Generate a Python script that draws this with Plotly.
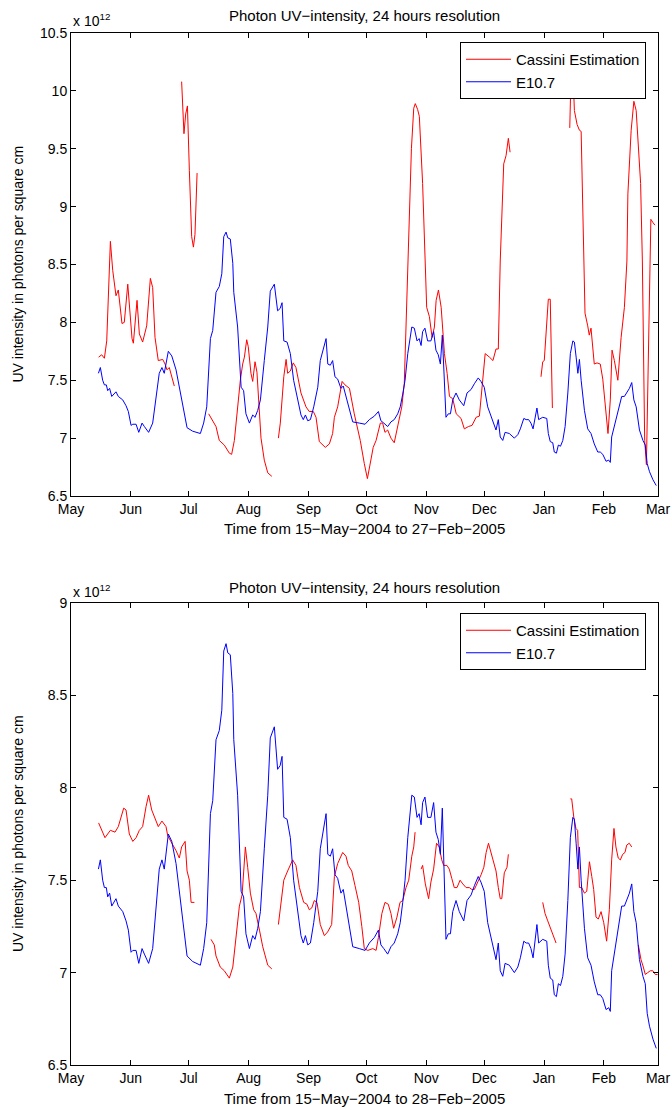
import datetime as dt
import plotly.graph_objects as go

START = dt.datetime(2004, 5, 15)

# ---------------- data (days after 15-May-2004, values in 1e12 photons/cm^2) -------------
# E10.7 proxy (same series in both panels)
e107_days = [0.2, 1.2, 2.4, 3.3, 4.3, 5.0, 6.0, 7.1, 9.3, 10.5, 12.8, 14.5, 15.7, 17.1, 18.0, 19.7,
             21.1, 22.8, 24.0, 26.2, 28.3, 30.0, 31.7, 33.1, 34.3, 36.4, 38.2, 40.4, 42.1, 43.8, 46.1,
             49.0, 50.8, 53.0, 54.7, 56.3, 58.2, 59.4, 61.1, 62.8, 64.1, 65.1, 66.3, 67.2, 68.5, 69.8,
             70.3, 72.3, 74.1, 75.4, 76.6, 78.4, 80.1, 81.3, 82.7, 84.1, 86.1, 87.9, 89.2, 91.3, 93.0,
             94.3, 95.3, 96.2, 97.9, 99.6, 101.3, 103.4, 105.1, 106.3, 107.4, 108.6, 110.0, 111.7, 113.8,
             115.1, 116.9, 118.1, 119.0, 120.3, 121.5, 122.7, 124.1, 125.8, 127.0, 128.4, 129.8, 131.9,
             135.3, 138.3, 140.5, 143.1, 145.2, 146.5, 148.0, 150.0, 151.7, 153.4, 155.2, 156.5, 157.8,
             159.0, 160.4, 162.5, 163.8, 165.2, 166.3, 167.3, 168.1, 169.3, 170.7, 172.4, 173.8, 175.0,
             176.2, 177.3, 178.3, 179.0, 180.2, 181.4, 182.5, 183.7, 185.4, 187.1, 189.4, 191.1, 193.2,
             194.9, 196.9, 198.3, 200.0, 201.8, 204.0, 206.1, 207.3, 208.3, 209.6, 210.8, 213.0, 215.6,
             217.4, 218.7, 220.5, 221.7, 223.0, 224.2, 225.3, 226.3, 227.3, 228.2, 230.3, 232.4, 233.2,
             234.2, 235.5, 236.3, 237.4, 238.4, 239.5, 240.7, 241.9, 243.3, 244.6, 245.9, 246.7, 247.6,
             248.5, 249.3, 250.2, 251.9, 253.6, 255.3, 257.0, 258.8, 260.1, 261.4, 263.1, 264.5, 265.3,
             266.0, 267.4, 269.2, 270.0, 271.2, 272.6, 274.0, 275.2, 276.4, 277.5, 278.7, 280.4, 282.2,
             283.4, 284.4, 285.6, 287.4, 289.1]
e107_vals = [7.56, 7.61, 7.50, 7.46, 7.46, 7.41, 7.43, 7.36, 7.40, 7.36, 7.33, 7.28, 7.23, 7.11, 7.12, 7.12,
             7.05, 7.13, 7.10, 7.05, 7.13, 7.33, 7.56, 7.61, 7.56, 7.75, 7.71, 7.59, 7.44, 7.31, 7.09,
             7.06, 7.05, 7.04, 7.13, 7.27, 7.86, 7.93, 8.26, 8.31, 8.42, 8.74, 8.78, 8.73, 8.72, 8.51,
             8.26, 7.96, 7.44, 7.41, 7.21, 7.13, 7.20, 7.18, 7.24, 7.33, 7.67, 7.96, 8.27, 8.33, 8.10,
             8.12, 8.17, 7.84, 7.83, 7.73, 7.50, 7.33, 7.20, 7.16, 7.20, 7.15, 7.16, 7.27, 7.44,
             7.67, 7.80, 7.86, 7.64, 7.63, 7.67, 7.53, 7.51, 7.43, 7.45, 7.36, 7.27, 7.14,
             7.13, 7.12, 7.16, 7.19, 7.23, 7.15, 7.13, 7.10, 7.14, 7.16, 7.21, 7.27, 7.38,
             7.50, 7.73, 7.96, 7.95, 7.84, 7.86, 7.80, 7.92, 7.95, 7.84, 7.84, 7.92, 7.76,
             7.72, 7.64, 7.89, 7.61, 7.18, 7.21, 7.21, 7.33, 7.39, 7.33, 7.28, 7.39, 7.42,
             7.47, 7.52, 7.49, 7.44, 7.27, 7.16, 7.07, 7.16, 7.01, 6.98, 7.05, 7.04, 7.00,
             7.03, 7.08, 7.17, 7.16, 7.16, 7.13, 7.08, 7.18, 7.26, 7.16, 7.18, 7.17, 7.04,
             6.97, 6.96, 6.88, 6.87, 6.94, 6.93, 6.98, 7.10, 7.39, 7.73, 7.84, 7.83, 7.70,
             7.56, 7.68, 7.50, 7.24, 7.08, 7.04, 6.95, 6.88, 6.88, 6.86, 6.80, 6.81, 6.79,
             7.01, 7.10, 7.21, 7.26, 7.36, 7.36, 7.40, 7.43, 7.48, 7.33, 7.27, 7.07, 6.98,
             6.94, 6.78, 6.71, 6.64, 6.59]

# Cassini estimation, top panel (None = data gap)
cassini1_days = [0.3, 1.9, 3.3, 4.5, 6.4, 7.6, 9.3, 10.5, 12.4, 13.6, 15.4, 17.6, 18.3, 20.2, 21.4, 23.1,
                 25.2, 27.1, 28.3, 29.5, 31.2, 33.5, 34.7, 35.7, 36.9, 37.8, 39.5, None,
                 43.3, 44.5, 45.4, 46.3, 47.3, 48.5, 49.4, 50.2, 51.3, None,
                 57.3, 58.9, 61.1, 62.8, 65.4, 68.0, 69.2, 70.6, 72.3, 73.7, 74.9, 75.8, 77.0, 77.8,
                 79.2, 80.1, 81.3, 82.3, 84.4, 86.1, 87.9, 90.0, None,
                 93.4, 94.4, 96.2, 97.4, 98.2, 99.6, 101.1, 102.5, 105.1, 107.7, 109.4, 111.5, 112.9,
                 114.6, 117.7, 119.8, 121.5, 122.4, 124.1, 126.4, 127.9, 130.2, 132.7, 135.8, 137.9,
                 139.5, 141.4, 142.5, 144.0, 146.2, 147.4, 148.6, 150.0, 151.7, 153.4, 155.2, 157.3,
                 158.6, 160.0, 161.3, 162.3, 163.5, 164.3, 165.5, 166.4, 168.1, 169.4, 170.2, 171.6,
                 173.0, 174.2, 175.1, 176.3, 177.7, 179.4, 180.8, 182.0, 183.7, 185.5, 188.0, 189.7,
                 191.8, 193.7, 195.8, 197.5, 198.8, 200.5, 202.7, 204.5, 206.1, 207.3, 208.3, 210.1,
                 211.3, 212.5, 213.4, None,
                 229.4, 230.3, 231.1, 233.2, 234.2, 235.3, None,
                 244.3, 245.2, 246.0, 246.7, 248.1, 249.3, 250.2, 251.6, 252.2, 253.6, 254.4, 255.3,
                 257.0, 258.4, 260.1, 261.4, 262.7, 264.1, 265.3, 266.2, 267.4, 269.2, 270.9, 272.6,
                 273.9, 274.4, 276.1, 277.5, 278.7, 281.0, 281.9, 283.1, 284.0, 286.3, 287.5, 288.4]
cassini1_vals = [7.70, 7.72, 7.69, 7.84, 8.70, 8.45, 8.23, 8.28, 7.99, 8.00, 8.33, 7.86, 7.82, 8.19, 7.90, 7.83,
                 7.97, 8.38, 8.30, 7.87, 7.67, 7.68, 7.64, 7.59, 7.61, 7.56, 7.45, None,
                 10.08, 9.63, 9.80, 9.87, 9.31, 8.74, 8.65, 8.76, 9.29, None,
                 7.21, 7.16, 7.10, 6.98, 6.94, 6.87, 6.86, 6.98, 7.27, 7.50, 7.64, 7.70, 7.85, 7.79,
                 7.56, 7.49, 7.66, 7.57, 7.00, 6.81, 6.70, 6.67, None,
                 7.00, 7.13, 7.53, 7.68, 7.56, 7.58, 7.65, 7.61, 7.39, 7.27, 7.23, 7.23, 7.18,
                 6.97, 6.92, 6.95, 7.04, 7.18, 7.27, 7.49, 7.46, 7.43, 7.21, 6.98, 6.78,
                 6.65, 6.82, 6.92, 6.98, 7.13, 7.13, 7.05, 7.07, 7.00, 6.96, 7.10, 7.27,
                 7.47, 8.20, 8.90, 9.50, 9.85, 9.89, 9.84, 9.78, 9.20, 8.53, 8.13, 8.05,
                 7.87, 7.96, 8.19, 8.28, 8.13, 7.73, 7.56, 7.36, 7.34, 7.21, 7.17, 7.08,
                 7.10, 7.11, 7.18, 7.19, 7.41, 7.73, 7.70, 7.67, 7.77, 7.77, 8.53, 9.37,
                 9.44, 9.59, 9.47, None,
                 7.53, 7.66, 7.67, 8.20, 8.20, 7.26, None,
                 9.68, 10.30, 10.15, 9.83, 9.71, 9.66, 9.65, 8.53, 8.08, 7.97, 7.89, 7.95,
                 7.64, 7.65, 7.64, 7.51, 7.27, 7.04, 7.33, 7.76, 7.67, 7.50, 7.87, 8.13,
                 8.53, 9.11, 9.66, 9.91, 9.83, 9.20, 8.53, 6.98, 6.77, 8.89, 8.86, 8.84]

# Cassini estimation, bottom panel (None = data gap)
cassini2_days = [0.3, 1.9, 3.6, 6.4, 8.8, 10.5, 13.3, 14.5, 16.2, 18.0, 19.7, 21.4, 23.1, 24.9, 26.2, 27.8,
                 29.5, 31.2, 33.1, 35.2, 36.1, 37.8, 40.4, 42.1, 43.3, 45.1, 46.1, 47.3, 48.2, 49.9, None,
                 58.5, 60.2, 61.1, 63.3, 65.4, 68.0, 69.8, 71.5, 73.2, 74.6, 76.3, 77.5, 78.9, 80.6,
                 81.8, 83.6, 85.3, 87.9, 90.0, None,
                 93.4, 94.8, 96.2, 98.2, 100.8, 102.5, 104.3, 106.5, 108.2, 109.4, 110.7, 112.0, 113.4,
                 115.1, 117.2, 118.9, 121.0, 122.4, 124.1, 126.7, 128.4, 129.6, 131.4, 133.1, 135.0,
                 136.6, 137.9, 139.7, 142.3, 144.0, 145.2, 147.0, 148.6, 150.3, 151.7, 153.1, 154.8,
                 156.4, 157.8, 159.5, 160.9, 162.5, 163.5, 164.2, None,
                 167.3, 168.1, 169.5, 171.2, 172.4, 173.8, 175.3, 176.7, 178.0, 179.0, 180.7, 181.9,
                 183.2, 184.5, 185.9, 187.5, 188.9, 190.6, 192.3, 193.6, 194.9, 196.7, 198.4, 199.8,
                 201.0, 202.2, 203.5, 204.7, 206.1, 207.3, 208.3, 209.1, 210.4, 211.8, 212.5, None,
                 230.3, 231.5, 232.9, 235.0, 237.2, None,
                 244.6, 245.3, 246.4, 247.5, 248.4, 249.3, 250.5, 251.9, 253.1, 254.5, 255.7, 256.7,
                 257.9, 259.1, 260.5, 261.9, 263.4, 264.8, 266.0, 267.2, 268.2, 269.4, 270.5, 271.7,
                 272.9, 273.8, 275.1, 276.4, None,
                 279.8, 281.2, 282.4, 283.4, 284.7, 286.0, 287.3, 288.6, 289.8]
cassini2_vals = [7.81, 7.77, 7.73, 7.77, 7.76, 7.79, 7.89, 7.88, 7.75, 7.71, 7.73, 7.77, 7.79, 7.90, 7.96, 7.88,
                 7.83, 7.79, 7.82, 7.79, 7.74, 7.71, 7.66, 7.62, 7.68, 7.71, 7.55, 7.50, 7.38, 7.38, None,
                 7.18, 7.15, 7.09, 7.03, 7.01, 6.97, 7.03, 7.21, 7.36, 7.42, 7.68, 7.57, 7.43, 7.34,
                 7.32, 7.23, 7.14, 7.04, 7.02, None,
                 7.26, 7.37, 7.50, 7.55, 7.61, 7.58, 7.46, 7.38, 7.37, 7.34, 7.35, 7.39, 7.38,
                 7.26, 7.20, 7.22, 7.26, 7.52, 7.59, 7.65, 7.63, 7.58, 7.55, 7.47, 7.38,
                 7.25, 7.13, 7.12, 7.13, 7.12, 7.19, 7.32, 7.38, 7.37, 7.32, 7.24, 7.30,
                 7.38, 7.39, 7.46, 7.50, 7.63, 7.68, 7.76, None,
                 7.56, 7.58, 7.48, 7.40, 7.49, 7.56, 7.70, 7.68, 7.61, 7.58, 7.58, 7.56,
                 7.51, 7.46, 7.46, 7.50, 7.48, 7.46, 7.46, 7.45, 7.45, 7.49, 7.53, 7.57,
                 7.65, 7.70, 7.65, 7.61, 7.55, 7.46, 7.40, 7.40, 7.54, 7.57, 7.64, None,
                 7.38, 7.32, 7.28, 7.22, 7.16, None,
                 7.94, 7.94, 7.84, 7.78, 7.77, 7.46, 7.46, 7.43, 7.44, 7.60, 7.52, 7.45,
                 7.30, 7.29, 7.33, 7.27, 7.17, 7.34, 7.61, 7.78, 7.68, 7.62, 7.61, 7.64,
                 7.65, 7.69, 7.70, 7.68, None,
                 7.15, 7.07, 7.03, 6.99, 7.00, 7.01, 7.01, 6.99, 6.99]

month_ticks = ["2004-05-01", "2004-06-01", "2004-07-01", "2004-08-01", "2004-09-01", "2004-10-01",
               "2004-11-01", "2004-12-01", "2005-01-01", "2005-02-01", "2005-03-01"]
month_labels = ["May", "Jun", "Jul", "Aug", "Sep", "Oct", "Nov", "Dec", "Jan", "Feb", "Mar"]
ytick_top = [6.5, 7, 7.5, 8, 8.5, 9, 9.5, 10, 10.5]
ytick_bottom = [6.5, 7, 7.5, 8, 8.5, 9]

titles = ["Photon UV\u2212intensity, 24 hours resolution", "Photon UV\u2212intensity, 24 hours resolution"]
xlabels = ["Time from 15\u2212May\u22122004 to 27\u2212Feb\u22122005",
           "Time from 15\u2212May\u22122004 to 28\u2212Feb\u22122005"]
ylabel = "UV intensity in photons per square cm"
series_names = ["Cassini Estimation", "E10.7"]


def to_dates(days):
    return [None if d is None else START + dt.timedelta(days=d) for d in days]


def fmt(v):
    return ("%g" % v)


FONT = "Liberation Sans, Arial, Helvetica, sans-serif"
RED = "#ff0000"
BLUE = "#0000ff"

fig = go.Figure()
fig.add_trace(go.Scatter(x=to_dates(cassini1_days), y=cassini1_vals, mode="lines", name=series_names[0],
                         line=dict(color=RED, width=1), xaxis="x", yaxis="y", legend="legend"))
fig.add_trace(go.Scatter(x=to_dates(e107_days), y=e107_vals, mode="lines", name=series_names[1],
                         line=dict(color=BLUE, width=1), xaxis="x", yaxis="y", legend="legend"))
fig.add_trace(go.Scatter(x=to_dates(cassini2_days), y=cassini2_vals, mode="lines", name=series_names[0],
                         line=dict(color=RED, width=1), xaxis="x2", yaxis="y2", legend="legend2"))
fig.add_trace(go.Scatter(x=to_dates(e107_days), y=e107_vals, mode="lines", name=series_names[1],
                         line=dict(color=BLUE, width=1), xaxis="x2", yaxis="y2", legend="legend2"))

W, H = 672, 1110
L, R, T, B = 71, 14, 33, 45
PH = H - T - B


def py(pix):
    return (H - B - pix) / PH


def px(pix):
    return (pix - L) / (W - L - R)


common_axis = dict(showline=True, linecolor="black", linewidth=1, mirror="ticks", ticks="inside",
                   ticklen=5, tickcolor="black", showgrid=False, zeroline=False, automargin=False,
                   tickfont=dict(family=FONT, size=14, color="black"))

xax = dict(common_axis, type="date", range=["2004-05-01", "2005-03-01"], tickvals=month_ticks,
           ticktext=month_labels, domain=[0, 1])

fig.update_layout(
    width=W, height=H, margin=dict(l=L, r=R, t=T, b=B, autoexpand=False),
    paper_bgcolor="white", plot_bgcolor="white",
    font=dict(family=FONT, size=14, color="black"),
    xaxis=dict(xax, anchor="y"),
    xaxis2=dict(xax, anchor="y2"),
    yaxis=dict(common_axis, domain=[py(496), 1], range=[6.5, 10.5], tickvals=ytick_top,
               ticktext=[fmt(v) for v in ytick_top], anchor="x"),
    yaxis2=dict(common_axis, domain=[0, py(603)], range=[6.5, 9], tickvals=ytick_bottom,
                ticktext=[fmt(v) for v in ytick_bottom], anchor="x2"),
    legend=dict(x=px(646), y=py(42), xanchor="right", yanchor="top", bgcolor="white",
                bordercolor="black", borderwidth=1, font=dict(family=FONT, size=15), itemwidth=45,
                tracegroupgap=0),
    legend2=dict(x=px(646), y=py(613), xanchor="right", yanchor="top", bgcolor="white",
                 bordercolor="black", borderwidth=1, font=dict(family=FONT, size=15), itemwidth=45,
                 tracegroupgap=0),
    showlegend=True,
)

ann = []
for title_y, x10_y, xl_y, yl_y, title, xl in [
        (16, 20, 528, 264.5, titles[0], xlabels[0]),
        (587, 591, 1098, 834, titles[1], xlabels[1])]:
    ann.append(dict(text=title, x=0.5, y=py(title_y), xref="paper", yref="paper", showarrow=False,
                    xanchor="center", yanchor="middle", font=dict(family=FONT, size=15)))
    ann.append(dict(text="x 10<sup>12</sup>", x=0, y=py(x10_y), xref="paper", yref="paper",
                    showarrow=False, xanchor="left", yanchor="middle", font=dict(family=FONT, size=14)))
    ann.append(dict(text=xl, x=0.5, y=py(xl_y), xref="paper", yref="paper", showarrow=False,
                    xanchor="center", yanchor="middle", font=dict(family=FONT, size=15)))
    ann.append(dict(text=ylabel, x=px(18), y=py(yl_y), xref="paper", yref="paper", showarrow=False,
                    xanchor="center", yanchor="middle", textangle=-90, font=dict(family=FONT, size=14)))
fig.update_layout(annotations=ann)

fig.write_html("out.html")
